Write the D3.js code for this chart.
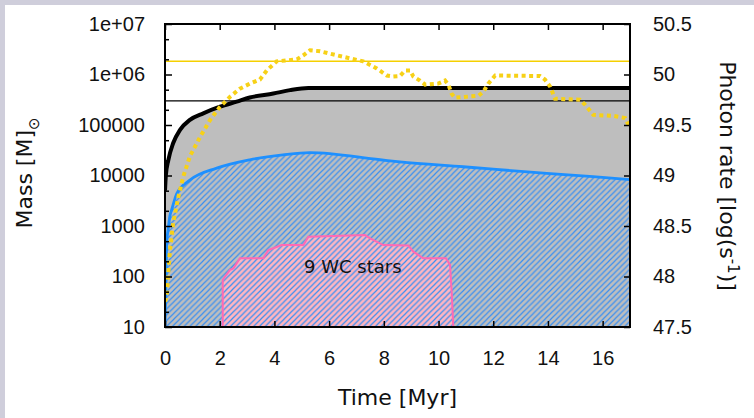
<!DOCTYPE html>
<html>
<head>
<meta charset="utf-8">
<script src="https://cdn.jsdelivr.net/npm/d3@7"></script>
<style>
  html, body { margin: 0; padding: 0; background: #fff; }
  svg { display: block; font-family: "DejaVu Sans", sans-serif; }
  .axis text { font-size: 20px; fill: #111; }
  .axis line { stroke: #000; stroke-width: 1.5; }
  .label { font-size: 22px; fill: #111; }
</style>
</head>
<body>
<svg></svg>
<script>
// time ticks (Myr)
const timeTicks = [0, 2, 4, 6, 8, 10, 12, 14, 16]
const massTicks = [10, 100, 1000, 1e4, 1e5, 1e6, 1e7]
const massLabels = ["10", "100", "1000", "10000", "100000", "1e+06", "1e+07"]
const rateTicks = [47.5, 48, 48.5, 49, 49.5, 50, 50.5]

// total mass (thick black line, grey area)
const totalTime = [0, 0.03, 0.12, 0.3, 0.55, 0.91, 1.4, 2.01, 2.62, 3.1, 3.96, 4.57, 5.24, 17]
const totalMass = [5000, 10000, 20000, 44000, 80000, 126000, 170000, 230000, 290000, 350000, 420000, 490000, 540000, 540000]

// stellar mass (blue line, hatched area)
const starTime = [0, 0.04, 0.06, 0.12, 0.18, 0.245, 0.43, 0.91, 1.89, 3.1, 4.31, 5.3, 7.86, 8.59, 10.9, 13.96, 15.65, 17]
const starMass = [10, 100, 460, 900, 1600, 2100, 4400, 8100, 14000, 20500, 25600, 28400, 20500, 18600, 14900, 11000, 9500, 8300]

// WC stars (pink area)
const wcTime = [2.11, 2.11, 2.19, 2.38, 2.5, 2.74, 3.59, 3.78, 4.27, 5.06, 5.24, 7.31, 7.5, 7.98, 8.9, 9.08, 9.44, 10.27, 10.42, 10.48, 10.54]
const wcMass = [10, 85, 99, 135, 145, 230, 230, 333, 420, 420, 615, 660, 570, 420, 410, 310, 230, 230, 170, 50, 10]

// ionising photon rate, log(s^-1) (yellow dotted)
const rateTime = [0, 0.06, 0.18, 0.3, 0.49, 0.67, 0.91, 1.28, 1.65, 2.01, 2.38, 2.74, 3.11, 3.47, 3.72, 4.08, 4.45, 4.82, 5.06, 5.3, 5.67, 6.28, 6.76, 7.25, 7.74, 8.11, 8.35, 8.59, 8.78, 8.96, 9.08, 9.32, 9.51, 9.99, 10.24, 10.36, 10.48, 10.6, 11.46, 11.64, 11.82, 12.07, 13.71, 13.89, 14.08, 14.26, 15.17, 15.36, 15.66, 16.39, 16.82, 17]
const rateValue = [47.75, 47.8, 48.26, 48.53, 48.79, 48.99, 49.19, 49.38, 49.55, 49.68, 49.78, 49.86, 49.91, 49.95, 50.04, 50.13, 50.14, 50.15, 50.19, 50.24, 50.23, 50.19, 50.16, 50.13, 50.06, 49.99, 49.98, 49.985, 50.04, 50.04, 49.98, 49.94, 49.9, 49.91, 49.94, 49.9, 49.81, 49.77, 49.79, 49.83, 49.91, 49.99, 49.985, 49.95, 49.88, 49.76, 49.75, 49.7, 49.6, 49.59, 49.57, 49.47]

// reference levels
const massLevel = 300000
const rateLevel = 50.13

const W = 754, H = 418
const m = { left: 165, right: 630, top: 24, bottom: 327 }

const svg = d3.select("svg")
  .attr("width", W)
  .attr("height", H)

// slide background strips
svg.append("rect").attr("width", W).attr("height", H).style("fill", "#fff")
svg.append("rect").attr("width", W).attr("height", 5).style("fill", "#cfcedb")
svg.append("rect").attr("width", 5).attr("height", H).style("fill", "#cfcedb")

const x = d3.scaleLinear().domain([0, 17]).range([m.left, m.right])
const yMass = d3.scaleLog().domain([10, 1e7]).range([m.bottom, m.top])
const yRate = d3.scaleLinear().domain([47.5, 50.5]).range([m.bottom, m.top])

const defs = svg.append("defs")
defs.append("clipPath")
  .attr("id", "plot")
  .append("rect")
  .attr("x", m.left).attr("y", m.top)
  .attr("width", m.right - m.left).attr("height", m.bottom - m.top)

const hatch = defs.append("pattern")
  .attr("id", "hatch")
  .attr("patternUnits", "userSpaceOnUse")
  .attr("width", 5.8)
  .attr("height", 5.8)
hatch.append("path")
  .attr("d", "M0,5.8 L5.8,0 M-1,1 L1,-1 M4.8,6.8 L6.8,4.8")
  .attr("stroke", "#3a8ff0")
  .attr("stroke-width", 1.2)
  .attr("fill", "none")

const plot = svg.append("g").attr("clip-path", "url(#plot)")

const massArea = (ts, ms, curve) => d3.area()
  .x((d, i) => x(ts[i]))
  .y0(m.bottom)
  .y1((d, i) => yMass(ms[i]))
  .curve(curve)(ms)

const massLine = (ts, ms, curve) => d3.line()
  .x((d, i) => x(ts[i]))
  .y((d, i) => yMass(ms[i]))
  .curve(curve)(ms)

// grey total mass area
plot.append("path")
  .attr("d", massArea(totalTime, totalMass, d3.curveMonotoneX))
  .style("fill", "#bebebe")

// pink WC area
plot.append("path")
  .attr("d", massArea(wcTime, wcMass, d3.curveLinear))
  .style("fill", "#ffb6c1")

// hatched stellar area
plot.append("path")
  .attr("d", massArea(starTime, starMass, d3.curveMonotoneX))
  .style("fill", "url(#hatch)")

plot.append("path")
  .attr("d", massLine(wcTime, wcMass, d3.curveLinear))
  .style("fill", "none")
  .style("stroke", "#ff69b4")
  .style("stroke-width", 2)

plot.append("path")
  .attr("d", massLine(starTime, starMass, d3.curveMonotoneX))
  .style("fill", "none")
  .style("stroke", "#1e90ff")
  .style("stroke-width", 2.8)

plot.append("line")
  .attr("x1", m.left).attr("x2", m.right)
  .attr("y1", yMass(massLevel)).attr("y2", yMass(massLevel))
  .style("stroke", "#000")
  .style("stroke-width", 1.2)

plot.append("path")
  .attr("d", massLine(totalTime, totalMass, d3.curveMonotoneX))
  .style("fill", "none")
  .style("stroke", "#000")
  .style("stroke-width", 4)

plot.append("line")
  .attr("x1", m.left).attr("x2", m.right)
  .attr("y1", yRate(rateLevel)).attr("y2", yRate(rateLevel))
  .style("stroke", "#f5d000")
  .style("stroke-width", 1.5)

plot.append("path")
  .datum(rateValue)
  .attr("d", d3.line()
    .x((d, i) => x(rateTime[i]))
    .y(d => yRate(d)))
  .style("fill", "none")
  .style("stroke", "#f7d117")
  .style("stroke-width", 4)
  .style("stroke-dasharray", "4,3.5")

plot.append("text")
  .attr("x", 304)
  .attr("y", 273)
  .style("font-size", "18px")
  .style("fill", "#111")
  .text("9 WC stars")

// axes
const minorMass = []
massTicks.slice(0, -1).forEach(d => { minorMass.push(d * 2, d * 5) })

svg.append("g")
  .attr("class", "axis")
  .attr("transform", `translate(0, ${m.bottom})`)
  .call(d3.axisBottom(x).tickValues(timeTicks).tickSizeInner(-6).tickSizeOuter(0).tickPadding(24))
  .call(g => g.select(".domain").remove())

svg.append("g")
  .attr("class", "axis")
  .attr("transform", `translate(0, ${m.top})`)
  .call(d3.axisTop(x).tickValues(timeTicks).tickSizeInner(-6).tickSizeOuter(0).tickFormat(""))
  .call(g => g.select(".domain").remove())

svg.append("g")
  .attr("class", "axis")
  .attr("transform", `translate(${m.left}, 0)`)
  .call(d3.axisLeft(yMass).tickValues(massTicks).tickSizeInner(-7).tickSizeOuter(0).tickPadding(20)
    .tickFormat((d, i) => massLabels[i]))
  .call(g => g.select(".domain").remove())

svg.append("g")
  .attr("class", "axis")
  .attr("transform", `translate(${m.left}, 0)`)
  .call(d3.axisLeft(yMass).tickValues(minorMass).tickSizeInner(-4).tickSizeOuter(0).tickFormat(""))
  .call(g => g.select(".domain").remove())

svg.append("g")
  .attr("class", "axis")
  .attr("transform", `translate(${m.right}, 0)`)
  .call(d3.axisRight(yRate).tickValues(rateTicks).tickSizeInner(-6).tickSizeOuter(0).tickPadding(23)
    .tickFormat(d3.format("")))
  .call(g => g.select(".domain").remove())

svg.append("rect")
  .attr("x", m.left).attr("y", m.top)
  .attr("width", m.right - m.left).attr("height", m.bottom - m.top)
  .style("fill", "none")
  .style("stroke", "#000")
  .style("stroke-width", 2)

// axis titles
svg.append("text")
  .attr("class", "label")
  .attr("x", (m.left + m.right) / 2)
  .attr("y", 405)
  .attr("text-anchor", "middle")
  .text("Time [Myr]")

const massTitle = svg.append("text")
  .attr("class", "label")
  .attr("transform", "translate(32, 173) rotate(-90)")
  .attr("text-anchor", "middle")
massTitle.append("tspan").text("Mass [M]")
massTitle.append("tspan").attr("dy", 7).style("font-size", "15px").text("\u2299")

const rateTitle = svg.append("text")
  .attr("class", "label")
  .attr("transform", "translate(720, 176) rotate(90)")
  .attr("text-anchor", "middle")
rateTitle.append("tspan").text("Photon rate [log(s")
rateTitle.append("tspan").attr("dy", -8).style("font-size", "15px").text("-1")
rateTitle.append("tspan").attr("dy", 8).text(")]")
</script>
</body>
</html>
